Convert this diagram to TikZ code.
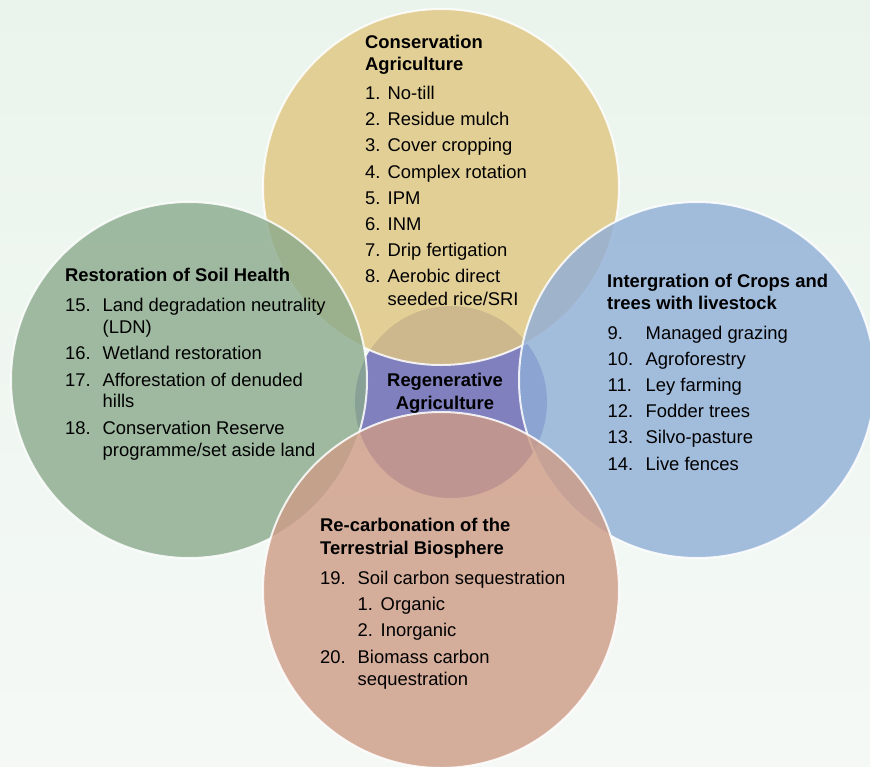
\documentclass[tikz,border=0pt]{standalone}
\usepackage{fontspec}
\setmainfont{Liberation Sans}
\definecolor{bgtop}{RGB}{234,244,236}
\definecolor{bgbot}{RGB}{245,249,246}
\definecolor{cyel}{RGB}{224,198,128}
\definecolor{cgrn}{RGB}{138,170,140}
\definecolor{cblu}{RGB}{143,174,215}
\definecolor{cora}{RGB}{206,155,133}
\definecolor{cpur}{RGB}{128,128,190}
\newcommand{\fsz}{\fontsize{18.4}{22}\selectfont}
\begin{document}
\begin{tikzpicture}[x=1pt,y=-1pt,
  bubble/.style={fill=#1, fill opacity=0.8, draw=white, draw opacity=0.85, line width=2pt},
  txt/.style={anchor=base west, inner sep=0pt, font=\fsz, text=black},
  ttl/.style={anchor=base west, inner sep=0pt, font=\fsz\bfseries, text=black},
  ctr/.style={anchor=base, inner sep=0pt, font=\fsz\bfseries, text=black}]
\useasboundingbox (0,0) rectangle (870,766);
\shade[top color=bgtop, bottom color=bgbot] (0,0) rectangle (870,766);
% central circle
\fill[cpur] (451,402) circle[radius=96pt];
% four big circles
\path[bubble=cyel] (441,187) circle[radius=178pt];
\path[bubble=cgrn] (189,380) circle[radius=178pt];
\path[bubble=cblu] (697,380) circle[radius=178pt];
\path[bubble=cora] (441,590) circle[radius=178pt];
% centre text
\node[ctr] (ra1) at (445,386.5) {Regenerative};
\node[ctr] (ra2) at (445,409) {Agriculture};
% top circle
\node[ttl] (ca1) at (365,48.5) {Conservation};
\node[ttl] (ca2) at (365,70.5) {Agriculture};
\foreach \n/\t/\y in {1/No-till/99.5, 2/Residue mulch/125.7, 3/Cover cropping/151.9, 4/Complex rotation/178.1, 5/IPM/204.3, 6/INM/230.5, 7/Drip fertigation/256.7, 8/Aerobic direct/282.9}{
  \node[txt] (can\n) at (365,\y) {\n.};
  \node[txt] (cat\n) at (387.5,\y) {\t};
}
\node[txt] (cat8b) at (387.5,305.9) {seeded rice/SRI};
% right circle
\node[ttl] (ic1) at (607,287.5) {Intergration of Crops and};
\node[ttl] (ic2) at (607,309.5) {trees with livestock};
\foreach \n/\t/\y in {9/Managed grazing/339.5, 10/Agroforestry/365.6, 11/Ley farming/391.7, 12/Fodder trees/417.8, 13/Silvo-pasture/443.9, 14/Live fences/470}{
  \node[txt] (icn\n) at (607.5,\y) {\n.};
  \node[txt] (ict\n) at (645.5,\y) {\t};
}
% left circle
\node[ttl] (rs1) at (65,281) {Restoration of Soil Health};
\node[txt] (rsn15) at (65,311.5) {15.};
\node[txt] (rst15) at (102.5,311.5) {Land degradation neutrality};
\node[txt] (rst15b) at (102.5,333.5) {(LDN)};
\node[txt] (rsn16) at (65,359.5) {16.};
\node[txt] (rst16) at (102.5,359.5) {Wetland restoration};
\node[txt] (rsn17) at (65,386.5) {17.};
\node[txt] (rst17) at (102.5,386.5) {Afforestation of denuded};
\node[txt] (rst17b) at (102.5,407.5) {hills};
\node[txt] (rsn18) at (65,434.5) {18.};
\node[txt] (rst18) at (102.5,434.5) {Conservation Reserve};
\node[txt] (rst18b) at (102.5,456.5) {programme/set aside land};
% bottom circle
\node[ttl] (rc1) at (320,531.5) {Re-carbonation of the};
\node[ttl] (rc2) at (320,554.5) {Terrestrial Biosphere};
\node[txt] (rcn19) at (320,584.5) {19.};
\node[txt] (rct19) at (357.5,584.5) {Soil carbon sequestration};
\node[txt] (rcs1n) at (357.5,610.5) {1.};
\node[txt] (rcs1t) at (380.5,610.5) {Organic};
\node[txt] (rcs2n) at (357.5,636.5) {2.};
\node[txt] (rcs2t) at (380.5,636.5) {Inorganic};
\node[txt] (rcn20) at (320,663.5) {20.};
\node[txt] (rct20) at (357.5,663.5) {Biomass carbon};
\node[txt] (rct20b) at (357.5,685.5) {sequestration};
\end{tikzpicture}
\end{document}
